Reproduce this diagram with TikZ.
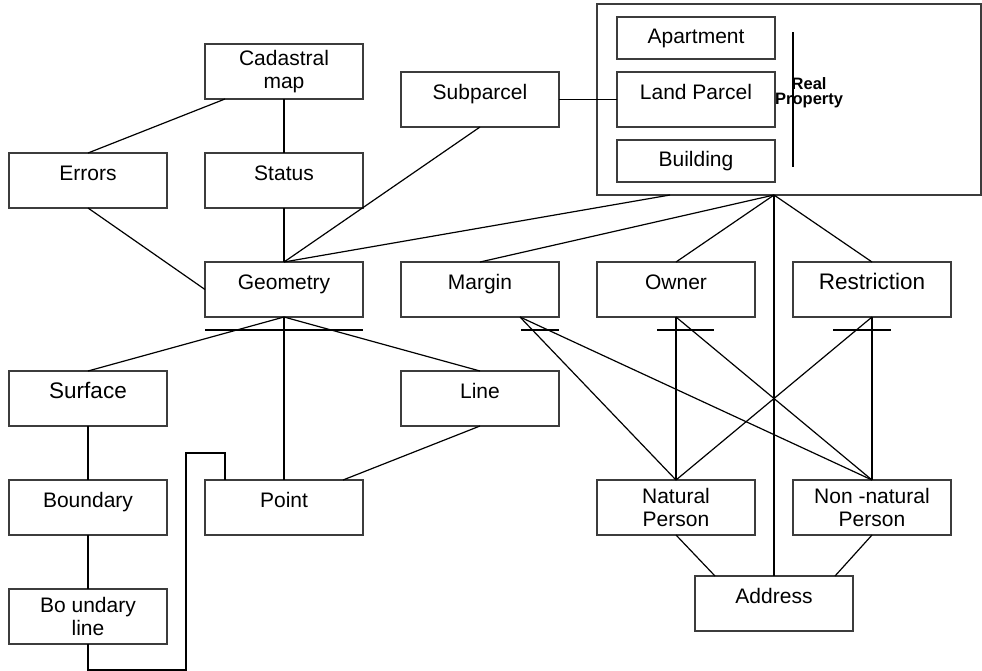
\documentclass[tikz,border=0pt]{standalone}
\usepackage{fontspec}
\setmainfont{Liberation Sans}
\usepackage{tikz}
\usetikzlibrary{positioning, calc}
\definecolor{boxgray}{RGB}{60,60,60}
\tikzset{
  entity/.style={
    rectangle, draw=boxgray, line width=1.4pt,
    minimum width=158pt, minimum height=55pt,
    inner sep=2pt, outer sep=0pt,
    text height=16pt, text depth=16pt,
    font=\fontsize{21}{23.5}\selectfont
  },
  entitytwo/.style={
    rectangle, draw=boxgray, line width=1.4pt,
    minimum width=158pt, minimum height=55pt,
    inner sep=2pt, outer sep=0pt, align=center,
    font=\fontsize{21}{23.5}\selectfont
  },
  part/.style={
    entity, minimum height=42pt,
    text height=15pt, text depth=4pt
  },
  group/.style={
    rectangle, draw=boxgray, line width=1.4pt,
    minimum width=384pt, minimum height=191pt,
    outer sep=0pt
  },
  rptext/.style={
    align=center, inner sep=0pt, anchor=west,
    font=\bfseries\fontsize{16.5}{15.5}\selectfont
  },
  link/.style={line width=1.2pt, color=black},
}
\begin{document}
\begin{tikzpicture}[x=1pt, y=-1pt, node distance=54pt and 38pt]
  \useasboundingbox (0,0) rectangle (982,670);

  \node (errors)       [entity]                        at (88,180.5) {Errors};
  \node (status)       [entity, right=of errors]       {Status};
  \node (cadastral)    [entitytwo, above=of status]    {Cadastral\\map};
  \node (geometry)     [entity, below=of status]       {Geometry};
  \node (margin)       [entity, right=of geometry]     {Margin};
  \node (owner)        [entity, right=of margin]       {Owner};
  \node (restriction)  [entity, right=of owner, font=\fontsize{22.5}{25}\selectfont] {Restriction};
  \node (realprop)     [group, above right=67pt and 0pt of owner.north west] {};
  \node (landparcel)   [entity, right=20pt of realprop.west] {Land Parcel};
  \node (apartment)    [part, above=13pt of landparcel] {Apartment};
  \node (building)     [part, below=13pt of landparcel] {Building};
  \node (subparcel)    [entity] at (margin |- landparcel) {Subparcel};
  \node (line)         [entity, below=of margin]       {Line};
  \node (surface)      [entity, font=\fontsize{22.5}{25}\selectfont] at (errors |- line) {Surface};
  \node (boundary)     [entity, below=of surface]      {Boundary};
  \node (point)        [entity, right=of boundary]     {Point};
  \node (boundaryline) [entitytwo, below=of boundary]  {Bo undary\\line};
  \node (natural)      [entitytwo] at (owner |- point) {Natural\\Person};
  \node (nonnatural)   [entitytwo, right=of natural]   {Non -natural\\Person};
  \coordinate (addrtop) at ($(natural.south east)!0.5!(nonnatural.south west)$);
  \node (address)      [entity, below=41pt of addrtop] {Address};
  \coordinate (rpfoot) at (address.north |- realprop.south);

  \draw [link] ([yshift=-15pt]apartment.north -| restriction.west) -- ([yshift=15pt]building.south -| restriction.west);
  \node (rplabel)      [rptext] at ([yshift=7pt]landparcel.east) {Real\\Property};

  \draw [link] (cadastral) -- (status);
  \draw [link] ([xshift=-59pt]cadastral.south) -- (errors.north);
  \draw [link] (status) -- (geometry);
  \draw [link] (errors.south) -- (geometry.west);
  \draw [link] (subparcel.south) -- (geometry.north);
  \draw [link] (subparcel.east) -- (landparcel.west);
  \draw [link] ([xshift=-119pt]realprop.south) -- (geometry.north);
  \draw [link] (rpfoot) -- (margin.north);
  \draw [link] (rpfoot) -- (owner.north);
  \draw [link] (rpfoot) -- (restriction.north);
  \draw [link] (rpfoot) -- (address.north);

  \draw [link] (geometry.south) -- (surface.north);
  \draw [link] (geometry.south) -- (point.north);
  \draw [link] (geometry.south) -- (line.north);
  \draw [link] ([yshift=-13pt]geometry.south west) -- ([yshift=-13pt]geometry.south east);
  \draw [link] (line.south) -- ([xshift=59pt]point.north);
  \draw [link] (surface) -- (boundary);
  \draw [link] (boundary) -- (boundaryline);
  \draw [link] (boundaryline.south) |- ++(98,26) |- ([xshift=-59pt,yshift=27pt]point.north) -- ([xshift=-59pt]point.north);

  \draw [link] ([xshift=-38pt,yshift=-13pt]margin.south east) -- ([yshift=-13pt]margin.south east);
  \draw [link] ([xshift=-19pt,yshift=-13pt]owner.south) -- ([xshift=38pt,yshift=-13pt]owner.south);
  \draw [link] ([xshift=-39pt,yshift=-13pt]restriction.south) -- ([xshift=19pt,yshift=-13pt]restriction.south);
  \draw [link] ([xshift=40pt]margin.south) -- (natural.north);
  \draw [link] ([xshift=40pt]margin.south) -- (nonnatural.north);
  \draw [link] (owner.south) -- (natural.north);
  \draw [link] (owner.south) -- (nonnatural.north);
  \draw [link] (restriction.south) -- (natural.north);
  \draw [link] (restriction.south) -- (nonnatural.north);
  \draw [link] (natural.south) -- ([xshift=-59pt]address.north);
  \draw [link] (nonnatural.south) -- ([xshift=61pt]address.north);
\end{tikzpicture}
\end{document}
